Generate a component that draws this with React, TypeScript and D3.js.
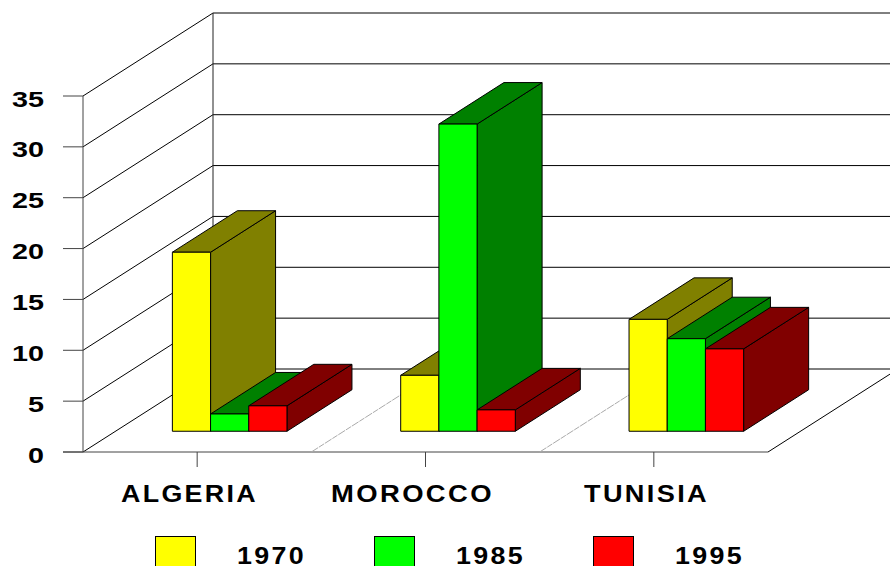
import React from "react";
import * as d3 from "d3";

const categories = ["ALGERIA", "MOROCCO", "TUNISIA"];
const years = ["1970", "1985", "1995"];
const values1970 = [17.6, 5.5, 11];
const values1985 = [1.7, 30.2, 9.1];
const values1995 = [2.5, 2.1, 8.1];
const series = [values1970, values1985, values1995];
const frontColors = ["#ffff00", "#00ff00", "#ff0000"];
const darkColors = ["#808000", "#008000", "#800000"];
const yTicks = [0, 5, 10, 15, 20, 25, 30, 35];

const W = 890, H = 566;
const y = d3.scaleLinear().domain([0, 35]).range([452, 96]);
const x = d3.scaleBand().domain(categories).range([83, 768]);
const depth = { dx: 130, dy: -83 };
const at = (px: number, py: number, d: number): [number, number] => [px + depth.dx * d, py + depth.dy * d];
const poly = (pts: [number, number][]) => (d3.line()(pts) as string) + "Z";
const font = "Liberation Sans, Arial, sans-serif";
const catSpan = [[121, 137], [331, 163], [584, 125]];

export default function App() {
  const barW = 38.2;
  const backX = 83 + depth.dx;
  return (
    <svg width={W} height={H} viewBox={`0 0 ${W} ${H}`} style={{ position: "absolute", left: 0, top: 0, background: "#fff" }}>
      {yTicks.map((t) => {
        const yy = y(t);
        return (
          <g key={t} stroke="#000" strokeWidth={1} fill="none">
            <line x1={63} x2={83} y1={yy} y2={yy} stroke="#444" />
            <line x1={83} y1={yy} x2={backX} y2={yy + depth.dy} />
            <line x1={backX} y1={yy + depth.dy} x2={W} y2={yy + depth.dy} />
          </g>
        );
      })}
      <line x1={83} x2={83} y1={y(35)} y2={y(0)} stroke="#444" />
      <line x1={backX} x2={backX} y1={y(35) + depth.dy} y2={y(0) + depth.dy} stroke="#222" />
      <line x1={63} x2={768} y1={y(0)} y2={y(0)} stroke="#444" />
      <line x1={768} y1={452} x2={768 + depth.dx} y2={452 + depth.dy} stroke="#000" />
      {yTicks.map((t) => {
        const s = String(t);
        const w = s.length * 16;
        return (
          <text key={t} x={44 - w} y={y(t) + 10.5} fontFamily={font} fontWeight="bold" fontSize={22} textLength={w} lengthAdjust="spacingAndGlyphs">{t}</text>
        );
      })}
      {categories.map((c, i) => {
        const c0 = x(c)!;
        const cx = c0 + x.bandwidth() / 2;
        return (
          <g key={c}>
            <line x1={cx} x2={cx} y1={452} y2={467} stroke="#444" />
            {i > 0 && <line x1={c0} y1={452} x2={c0 + depth.dx} y2={452 + depth.dy} stroke="#aaa" strokeWidth={1} strokeDasharray="8 1 6 1" />}
          </g>
        );
      })}
      {categories.map((c, i) => {
        const cx = x(c)! + x.bandwidth() / 2;
        const left = cx + depth.dx * 0.25 - barW * 1.5;
        const base = 452 + depth.dy * 0.25;
        return (
          <g key={c} stroke="#000" strokeWidth={1} strokeLinejoin="round">
            {series.map((s, k) => {
              const x0 = left + k * barW, x1 = x0 + barW;
              const h = 452 - y(s[i]);
              const top = base - h;
              const shift = (p: [number, number]) => at(p[0], p[1], 0.5);
              return (
                <g key={k}>
                  <path d={poly([[x1, top], shift([x1, top]), shift([x1, base]), [x1, base]])} fill={darkColors[k]} />
                  <path d={poly([[x0, top], [x1, top], shift([x1, top]), shift([x0, top])])} fill={darkColors[k]} />
                  <rect x={x0} y={top} width={barW} height={h} fill={frontColors[k]} />
                </g>
              );
            })}
          </g>
        );
      })}
      {categories.map((c, i) => (
        <text key={c} x={catSpan[i][0]} y={502} fontFamily={font} fontWeight="bold" fontSize={23} letterSpacing={2} textLength={catSpan[i][1]} lengthAdjust="spacingAndGlyphs">{c}</text>
      ))}
      {years.map((yr, k) => (
        <g key={yr}>
          <rect x={155.5 + k * 219} y={536.5} width={40} height={40} fill={frontColors[k]} stroke="#000" />
          <text x={237 + k * 219} y={564} fontFamily={font} fontWeight="bold" fontSize={23} letterSpacing={2} textLength={69} lengthAdjust="spacingAndGlyphs">{yr}</text>
        </g>
      ))}
    </svg>
  );
}
